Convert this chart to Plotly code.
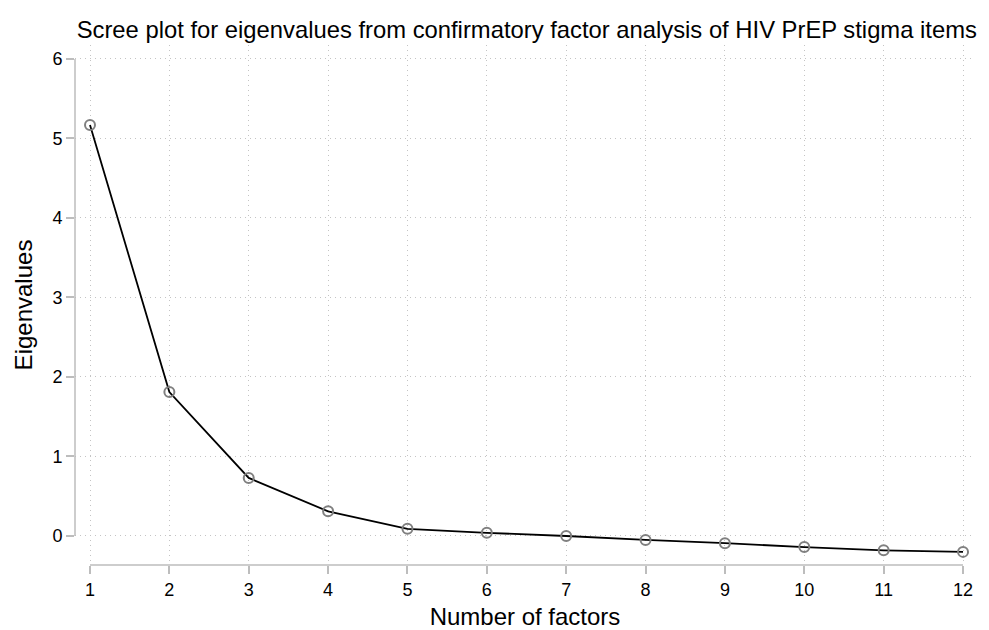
import plotly.graph_objects as go

factors = [1, 2, 3, 4, 5, 6, 7, 8, 9, 10, 11, 12]
eigenvalues = [5.17, 1.81, 0.73, 0.31, 0.09, 0.04, 0.00, -0.05, -0.09, -0.14, -0.18, -0.20]
x_ticks = list(range(1, 13))
y_ticks = [0, 1, 2, 3, 4, 5, 6]

font = "Liberation Sans, Arial, sans-serif"
axis_grey = "#bdbdbd"
grid_grey = "#c4c4c4"

fig = go.Figure()
fig.add_trace(go.Scatter(
    x=factors, y=eigenvalues, mode="lines+markers",
    line=dict(color="black", width=1.8),
    marker=dict(symbol="circle-open", size=10, color="#808080", line=dict(width=2, color="#808080")),
    showlegend=False,
))

fig.update_layout(
    width=981, height=622,
    paper_bgcolor="white", plot_bgcolor="white",
    margin=dict(l=67, r=14, t=37, b=65, autoexpand=False),
    font=dict(family=font, color="black"),
    title=dict(text="Scree plot for eigenvalues from confirmatory factor analysis of HIV PrEP stigma items",
               x=0.502, xref="paper", xanchor="center", y=0.965, yanchor="middle",
               font=dict(size=23.8, family=font, color="black")),
    xaxis=dict(range=[0.811, 12.151], tickvals=x_ticks, ticks="outside", ticklen=8, tickwidth=1.5,
               tickcolor=axis_grey, showline=False, zeroline=False, automargin=False,
               showgrid=True, gridcolor=grid_grey, griddash="1px,4px", gridwidth=1,
               tickfont=dict(size=18), title=dict(text="Number of factors", font=dict(size=24), standoff=18)),
    yaxis=dict(range=[-0.365, 6.176], tickvals=y_ticks, ticks="outside", ticklen=8, tickwidth=1.5,
               tickcolor=axis_grey, showline=False, zeroline=False, automargin=False,
               showgrid=True, gridcolor=grid_grey, griddash="1px,4px", gridwidth=1,
               tickfont=dict(size=18), title=dict(text="Eigenvalues", font=dict(size=24), standoff=12)),
)

# detached axis lines spanning the tick range
fig.add_shape(type="line", xref="x", yref="paper", x0=x_ticks[0], x1=x_ticks[-1], y0=0, y1=0,
              line=dict(color=axis_grey, width=1.5))
fig.add_shape(type="line", xref="paper", yref="y", x0=0, x1=0, y0=y_ticks[0], y1=y_ticks[-1],
              line=dict(color=axis_grey, width=1.5))

fig.write_html("out.html")
